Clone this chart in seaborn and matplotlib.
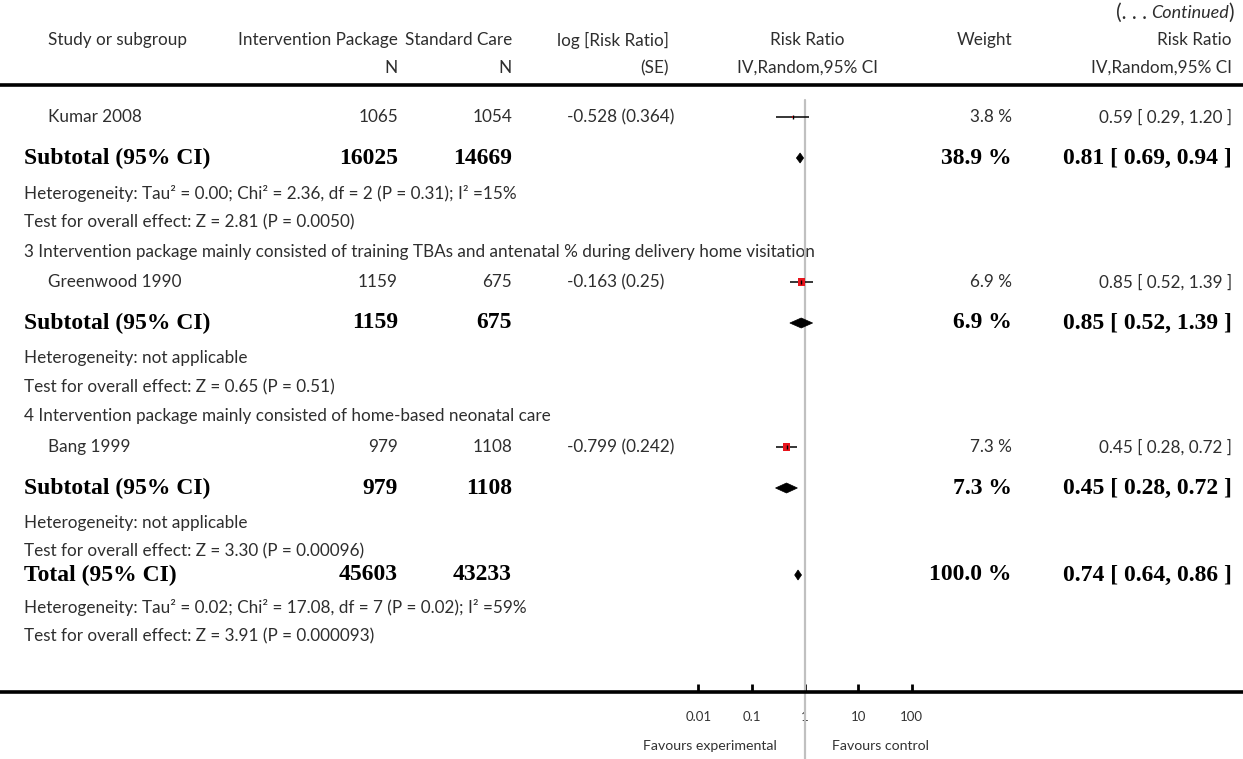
import numpy as np
import pandas as pd
import matplotlib
matplotlib.use("Agg")
import matplotlib.pyplot as plt
import seaborn as sns
from matplotlib.patches import Polygon
from matplotlib.ticker import NullLocator, FixedLocator, FixedFormatter

# ---------------- data ----------------
studies = ["Kumar 2008", "Greenwood 1990", "Bang 1999"]
study_int_n = [1065, 1159, 979]
study_ctrl_n = [1054, 675, 1108]
study_log_rr = [-0.528, -0.163, -0.799]
study_se = [0.364, 0.25, 0.242]
study_weight = [3.8, 6.9, 7.3]
study_rr = [0.59, 0.85, 0.45]
study_lo = [0.29, 0.52, 0.28]
study_hi = [1.20, 1.39, 0.72]

group_titles = [None,
                "3 Intervention package mainly consisted of training TBAs and antenatal % during delivery home visitation",
                "4 Intervention package mainly consisted of home-based neonatal care"]
sub_int_n = [16025, 1159, 979]
sub_ctrl_n = [14669, 675, 1108]
sub_weight = [38.9, 6.9, 7.3]
sub_rr = [0.81, 0.85, 0.45]
sub_lo = [0.69, 0.52, 0.28]
sub_hi = [0.94, 1.39, 0.72]
sub_het = ["Heterogeneity: Tau\u00b2 = 0.00; Chi\u00b2 = 2.36, df = 2 (P = 0.31); I\u00b2 =15%",
           "Heterogeneity: not applicable",
           "Heterogeneity: not applicable"]
sub_test = ["Test for overall effect: Z = 2.81 (P = 0.0050)",
            "Test for overall effect: Z = 0.65 (P = 0.51)",
            "Test for overall effect: Z = 3.30 (P = 0.00096)"]

total_int_n = 45603
total_ctrl_n = 43233
total_weight = 100.0
total_rr = 0.74
total_lo = 0.64
total_hi = 0.86
total_het = "Heterogeneity: Tau\u00b2 = 0.02; Chi\u00b2 = 17.08, df = 7 (P = 0.02); I\u00b2 =59%"
total_test = "Test for overall effect: Z = 3.91 (P = 0.000093)"

axis_ticks = [0.01, 0.1, 1, 10, 100]
axis_tick_labels = ["0.01", "0.1", "1", "10", "100"]
favours_left = "Favours experimental"
favours_right = "Favours control"

# ---------------- layout (pixel rows) ----------------
W, H = 1243, 759
title_y = [None, 252, 416]
study_y = [117, 282, 447]
sub_y = [158, 323, 488]
het_y = [193, 358, 523]
test_y = [222, 387, 551]
total_y, total_het_y, total_test_y = 575, 607, 636
axis_y = 692

X_NAME, X_SUB = 48, 24
X_INT, X_CTRL, X_LOG, X_WT, X_CI = 398, 512, 567, 1012, 1232
X_ONE = 805
PX_DEC = 53.33

sns.set_theme(style="white")
plt.rcParams['font.family'] = ['Lato', 'DejaVu Sans']

REG = dict(family=['Lato', 'DejaVu Sans'], fontsize=12.3, color='#2e2e2e', va='center')
BOLD = dict(family=['Liberation Serif', 'DejaVu Serif'], fontsize=17, fontweight='bold',
            color='black', va='center')

fig = plt.figure(figsize=(W / 100, H / 100), dpi=100)
fig.patch.set_facecolor('white')

# text overlay
tx = fig.add_axes([0, 0, 1, 1])
tx.set_xlim(0, W)
tx.set_ylim(H, 0)
tx.axis('off')

# forest axes
ax = fig.add_axes([0, 0, 1, 1])
ax.patch.set_alpha(0)
ax.set_xscale('log')
ax.set_xlim(10 ** (-X_ONE / PX_DEC), 10 ** ((W - X_ONE) / PX_DEC))
ax.set_ylim(H, 0)
for s in ['left', 'right', 'top']:
    ax.spines[s].set_visible(False)
ax.spines['bottom'].set_position(('data', axis_y))
ax.spines['bottom'].set_linewidth(2.6)
ax.spines['bottom'].set_color('black')
ax.xaxis.set_major_locator(FixedLocator(axis_ticks))
ax.xaxis.set_major_formatter(FixedFormatter(axis_tick_labels))
ax.xaxis.set_minor_locator(NullLocator())
ax.tick_params(axis='x', which='major', bottom=True, direction='in', length=6, width=2,
               color='black', pad=14, labelsize=9.5, labelcolor='#333333')
ax.set_yticks([])
for lab in ax.get_xticklabels():
    lab.set_family(['Lato', 'DejaVu Sans'])

# reference line at RR = 1
ax.axvline(1, ymin=0, ymax=(H - 100) / H, color='#c0c0c0', lw=1.6, zorder=1)

# study CIs and squares
ax.hlines(study_y, study_lo, study_hi, color='black', lw=1.1, zorder=3)
df = pd.DataFrame({'rr': study_rr, 'y': study_y, 'w': study_weight})
sns.scatterplot(data=df, x='rr', y='y', size='w', sizes=(3, 30), marker='s',
                color='#e8141c', linewidth=0, legend=False, ax=ax, zorder=4)
ax.scatter(study_rr, study_y, marker='|', s=12, color='black', linewidths=1, zorder=5)

# diamonds
def diamond(rr, lo, hi, y, h=5):
    ax.add_patch(Polygon([(lo, y), (rr, y - h), (hi, y), (rr, y + h)],
                         closed=True, facecolor='black', edgecolor='black', lw=0.5, zorder=4))

for i in range(3):
    diamond(sub_rr[i], sub_lo[i], sub_hi[i], sub_y[i])
diamond(total_rr, total_lo, total_hi, total_y)
ax.set_xlabel('')
ax.set_ylabel('')

# ---------------- text ----------------
tx.text(X_NAME, 40, "Study or subgroup", ha='left', **REG)
tx.text(X_INT, 40, "Intervention Package", ha='right', **REG)
tx.text(X_INT, 68, "N", ha='right', **REG)
tx.text(X_CTRL, 40, "Standard Care", ha='right', **REG)
tx.text(X_CTRL, 68, "N", ha='right', **REG)
tx.text(669, 40, "log [Risk Ratio]", ha='right', **REG)
tx.text(669, 68, "(SE)", ha='right', **REG)
tx.text(807, 40, "Risk Ratio", ha='center', **REG)
tx.text(808, 68, "IV,Random,95% CI", ha='center', **REG)
tx.text(X_WT, 40, "Weight", ha='right', **REG)
tx.text(X_CI, 40, "Risk Ratio", ha='right', **REG)
tx.text(X_CI, 68, "IV,Random,95% CI", ha='right', **REG)
tx.axhline(85, color='black', lw=2.6)

# (... Continued)
renderer = fig.canvas.get_renderer()
cont = dict(family=['Lato', 'DejaVu Sans'], fontsize=15, color='#2e2e2e', va='center')
inv = tx.transData.inverted()
t1 = tx.text(X_CI + 2, 13, ")", ha='right', **cont)
bb = t1.get_window_extent(renderer)
t2 = tx.text(inv.transform((bb.x0, 0))[0], 13, "Continued", ha='right', style='italic',
             **dict(cont, fontsize=13))
bb2 = t2.get_window_extent(renderer)
tx.text(inv.transform((bb2.x0 - 4, 0))[0], 13, "(. . .", ha='right', **cont)

for i in range(3):
    if group_titles[i]:
        tx.text(X_SUB, title_y[i], group_titles[i], ha='left', **REG)
    y = study_y[i]
    tx.text(X_NAME, y, studies[i], ha='left', **REG)
    tx.text(X_INT, y, f"{study_int_n[i]}", ha='right', **REG)
    tx.text(X_CTRL, y, f"{study_ctrl_n[i]}", ha='right', **REG)
    tx.text(X_LOG, y, f"{study_log_rr[i]} ({study_se[i]})", ha='left', **REG)
    tx.text(X_WT, y, f"{study_weight[i]:.1f} %", ha='right', **REG)
    tx.text(X_CI, y, f"{study_rr[i]:.2f} [ {study_lo[i]:.2f}, {study_hi[i]:.2f} ]", ha='right', **REG)

    y = sub_y[i]
    tx.text(X_SUB, y, "Subtotal (95% CI)", ha='left', **BOLD)
    tx.text(X_INT, y, f"{sub_int_n[i]}", ha='right', **BOLD)
    tx.text(X_CTRL, y, f"{sub_ctrl_n[i]}", ha='right', **BOLD)
    tx.text(X_WT, y, f"{sub_weight[i]:.1f} %", ha='right', **BOLD)
    tx.text(X_CI, y, f"{sub_rr[i]:.2f} [ {sub_lo[i]:.2f}, {sub_hi[i]:.2f} ]", ha='right', **BOLD)
    tx.text(X_SUB, het_y[i], sub_het[i], ha='left', **REG)
    tx.text(X_SUB, test_y[i], sub_test[i], ha='left', **REG)

tx.text(X_SUB, total_y, "Total (95% CI)", ha='left', **BOLD)
tx.text(X_INT, total_y, f"{total_int_n}", ha='right', **BOLD)
tx.text(X_CTRL, total_y, f"{total_ctrl_n}", ha='right', **BOLD)
tx.text(X_WT, total_y, f"{total_weight:.1f} %", ha='right', **BOLD)
tx.text(X_CI, total_y, f"{total_rr:.2f} [ {total_lo:.2f}, {total_hi:.2f} ]", ha='right', **BOLD)
tx.text(X_SUB, total_het_y, total_het, ha='left', **REG)
tx.text(X_SUB, total_test_y, total_test, ha='left', **REG)

FAV = dict(family=['Lato', 'DejaVu Sans'], fontsize=10.2, color='#333333', va='center')
tx.text(X_ONE - 28, 746, favours_left, ha='right', **FAV)
tx.text(X_ONE + 27, 746, favours_right, ha='left', **FAV)

fig.savefig("out.png", dpi=100, facecolor='white')
